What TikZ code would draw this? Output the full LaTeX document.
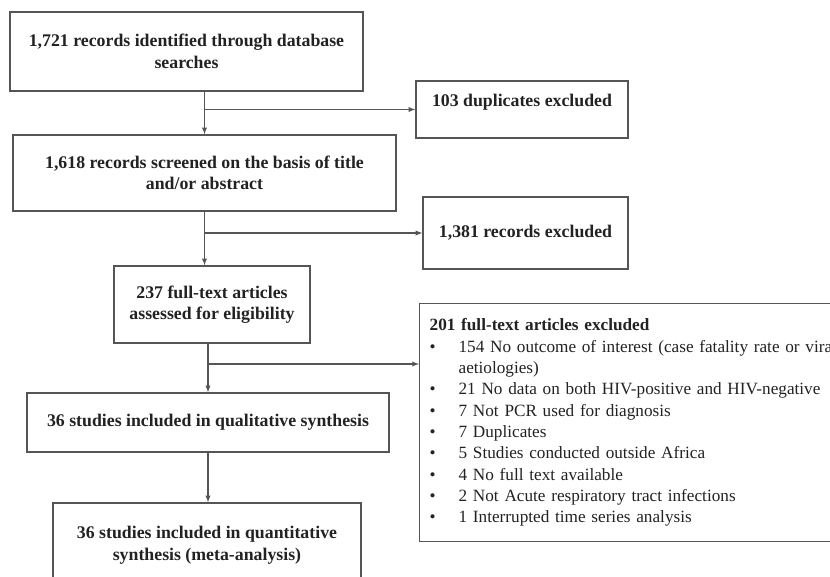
\documentclass[tikz,border=0pt]{standalone}
\usepackage{fontspec}
\setmainfont{Liberation Serif}
\definecolor{edge}{HTML}{555555}
\definecolor{ink}{HTML}{222222}
\begin{document}
\begin{tikzpicture}[
    x=1pt, y=-1pt,
    >=latex,
    box/.style={
        draw=edge,
        line width=1.3pt,
        inner sep=0pt,
        align=center,
        text=ink,
        font=\fontsize{17.8}{21.5}\selectfont\bfseries
    },
    arr/.style={->, line width=1.3pt, draw=edge}
]
    \useasboundingbox (0,0) rectangle (830,577);
    \clip (0,0) rectangle (830,577);

    \node[box, minimum width=353pt, minimum height=79pt] (found) at (186.5,51.5)
        {1,721 records identified through database\\searches};

    \node[box, minimum width=212pt, minimum height=57pt, text depth=18pt] (dupl) at (522,109.5)
        {103 duplicates excluded};

    \node[box, minimum width=383pt, minimum height=76pt] (screen) at (204.5,173)
        {1,618 records screened on the basis of title\\and/or abstract};

    \node[box, minimum width=205pt, minimum height=72pt] (drop) at (525.5,233)
        {1,381 records excluded};

    \node[box, minimum width=196pt, minimum height=77pt] (full) at (212,304.5)
        {237 full-text articles\\assessed for eligibility};

    \node[box, anchor=north west, minimum height=238pt, text width=420pt,
        inner xsep=10pt, align=left, font=\fontsize{17.2}{21.3}\selectfont] (reasons) at (419,303)
        {\textbf{201 full-text articles excluded}\\
        \makebox[29pt][l]{\textbullet}154 No outcome of interest (case fatality rate or viral\\
        \hspace*{29pt}aetiologies)\\
        \makebox[29pt][l]{\textbullet}21 No data on both HIV-positive and HIV-negative\\
        \makebox[29pt][l]{\textbullet}7 Not PCR used for diagnosis\\
        \makebox[29pt][l]{\textbullet}7 Duplicates\\
        \makebox[29pt][l]{\textbullet}5 Studies conducted outside Africa\\
        \makebox[29pt][l]{\textbullet}4 No full text available\\
        \makebox[29pt][l]{\textbullet}2 Not Acute respiratory tract infections\\
        \makebox[29pt][l]{\textbullet}1 Interrupted time series analysis};

    \node[box, minimum width=362pt, minimum height=59pt] (qual) at (208,422.5)
        {36 studies included in qualitative synthesis};

    \node[box, minimum width=308pt, minimum height=84pt] (quant) at (207,545)
        {36 studies included in quantitative\\synthesis (meta-analysis)};

    \coordinate (split) at (207,364);

    % main flow
    \draw[arr] (found.south -| screen.north) -- (screen.north);
    \draw[arr] (screen.south) -- (screen.south |- full.north);
    \draw[arr] (full.south -| qual.north) -- (qual.north);
    \draw[arr] (qual.south) -- (qual.south |- quant.north);

    % exclusions
    \draw[arr] (dupl.west -| screen.north) -- (dupl.west);
    \draw[arr] (drop.west -| screen.south) -- (drop.west);
    \draw[arr] (split) -- (split -| reasons.west);
\end{tikzpicture}
\end{document}
